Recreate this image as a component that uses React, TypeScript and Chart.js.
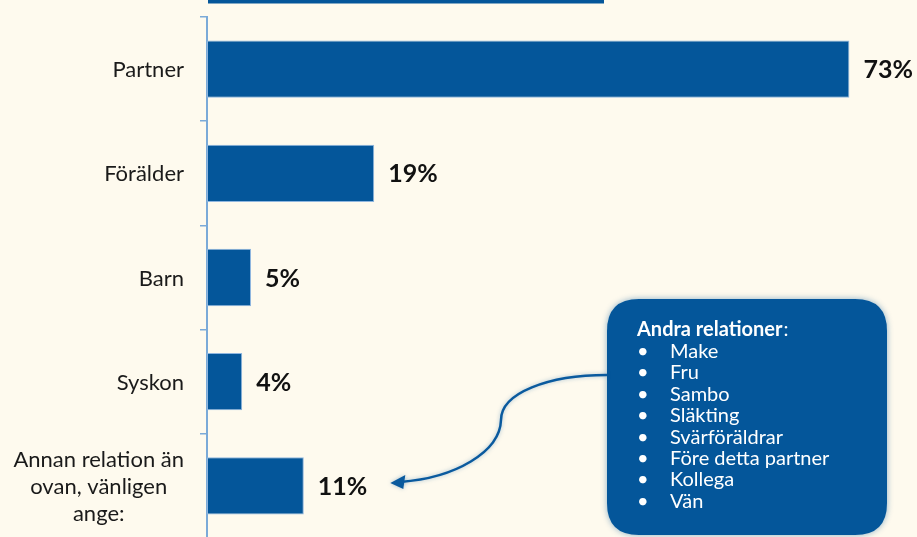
import React, { useEffect, useRef } from "react";
import { Chart, registerables } from "chart.js";

Chart.register(...registerables);

const categories: string[][] = [
  ["Partner"],
  ["Förälder"],
  ["Barn"],
  ["Syskon"],
  ["Annan relation än", "ovan, vänligen", "ange:"],
];
const values: number[] = [73, 19, 5, 4, 11];
const valueLabels: string[] = ["73%", "19%", "5%", "4%", "11%"];
const calloutTitle = "Andra relationer";
const calloutItems: string[] = [
  "Make",
  "Fru",
  "Sambo",
  "Släkting",
  "Svärföräldrar",
  "Före detta partner",
  "Kollega",
  "Vän",
];

const BG = "#FEFAEE";
const BAR = "#04569A";
const AXIS = "#7BAAD8";
const FONT = "Lato, 'Open Sans', sans-serif";

function roundRect(ctx: CanvasRenderingContext2D, x: number, y: number, w: number, h: number, r: number) {
  ctx.beginPath();
  ctx.moveTo(x + r, y);
  ctx.lineTo(x + w - r, y);
  ctx.quadraticCurveTo(x + w, y, x + w, y + r);
  ctx.lineTo(x + w, y + h - r);
  ctx.quadraticCurveTo(x + w, y + h, x + w - r, y + h);
  ctx.lineTo(x + r, y + h);
  ctx.quadraticCurveTo(x, y + h, x, y + h - r);
  ctx.lineTo(x, y + r);
  ctx.quadraticCurveTo(x, y, x + r, y);
  ctx.closePath();
}

const decorPlugin = {
  id: "decor",
  beforeDraw(chart: any) {
    const ctx = chart.ctx as CanvasRenderingContext2D;
    ctx.save();
    ctx.fillStyle = BG;
    ctx.fillRect(0, 0, chart.width, chart.height);
    // cropped banner at the top
    const x0 = chart.scales.x.left + 1;
    ctx.fillStyle = BAR;
    ctx.fillRect(x0, 0, 396, 3.5);
    ctx.restore();
  },
  afterDraw(chart: any) {
    const ctx = chart.ctx as CanvasRenderingContext2D;
    const xs = chart.scales.x;
    const ys = chart.scales.y;
    ctx.save();
    // category labels
    ctx.fillStyle = "#1a1a1a";
    ctx.font = `22px ${FONT}`;
    ctx.textBaseline = "middle";
    const rightEdge = ys.right - 7 - 16;
    const lh = 27;
    categories.forEach((lines, i) => {
      const cy = ys.getPixelForValue(i);
      const widths = lines.map((l) => ctx.measureText(l).width);
      const maxW = Math.max(...widths);
      const cx = rightEdge - maxW / 2;
      ctx.textAlign = "center";
      lines.forEach((l, j) => {
        const y = cy + (j - (lines.length - 1) / 2) * lh;
        ctx.fillText(l, cx, y + 1);
      });
    });
    // value labels
    ctx.font = `bold 25px ${FONT}`;
    ctx.textAlign = "left";
    ctx.fillStyle = "#111";
    let lastLabelEnd = 0;
    let lastY = 0;
    values.forEach((v, i) => {
      const x = xs.getPixelForValue(v) + 14;
      const y = ys.getPixelForValue(i);
      ctx.fillText(valueLabels[i], x, y + 1);
      lastLabelEnd = x + ctx.measureText(valueLabels[i]).width;
      lastY = y;
    });

    // callout box
    const bx = 607, by = 299, bw = 280, bh = 236;
    ctx.save();
    ctx.shadowColor = "rgba(4,86,154,0.45)";
    ctx.shadowBlur = 6;
    roundRect(ctx, bx, by, bw, bh, 32);
    ctx.fillStyle = BAR;
    ctx.fill();
    ctx.restore();

    ctx.fillStyle = "#ffffff";
    ctx.textBaseline = "alphabetic";
    ctx.textAlign = "left";
    ctx.font = `bold 20px ${FONT}`;
    ctx.fillText(calloutTitle, 637, 336);
    const tw = ctx.measureText(calloutTitle).width;
    ctx.font = `20px ${FONT}`;
    ctx.fillText(":", 637 + tw + 1, 336);
    calloutItems.forEach((it, i) => {
      const y = 358 + i * 21.4;
      ctx.font = `20px ${FONT}`;
      ctx.fillText("•", 637, y);
      ctx.fillText(it, 670, y);
    });

    // curved arrow
    const tipX = lastLabelEnd + 23;
    const tipY = lastY - 3;
    ctx.save();
    ctx.strokeStyle = "#0A5A9E";
    ctx.lineWidth = 2.5;
    ctx.shadowColor = "rgba(10,90,158,0.35)";
    ctx.shadowBlur = 4;
    ctx.beginPath();
    ctx.moveTo(bx, 375);
    ctx.bezierCurveTo(548, 375, 501, 393, 501, 420);
    ctx.bezierCurveTo(500, 452, 455, 478, tipX + 10, tipY - 1);
    ctx.stroke();
    ctx.fillStyle = "#0A5A9E";
    ctx.beginPath();
    ctx.moveTo(tipX, tipY);
    ctx.lineTo(tipX + 15, tipY - 8);
    ctx.lineTo(tipX + 13, tipY + 6);
    ctx.closePath();
    ctx.fill();
    ctx.restore();

    ctx.restore();
  },
};

export default function App() {
  const ref = useRef<HTMLCanvasElement | null>(null);
  useEffect(() => {
    document.body.style.margin = "0";
    document.body.style.background = BG;
    document.body.style.overflow = "hidden";
    if (!ref.current) return;
    const chart = new Chart(ref.current, {
      type: "bar",
      data: {
        labels: categories.map((c) => c.join(" ")),
        datasets: [
          {
            data: values,
            backgroundColor: BAR,
            borderColor: "#8FB6DF",
            borderWidth: 1,
            borderSkipped: false,
            barPercentage: 0.55,
            categoryPercentage: 1,
          },
        ],
      },
      options: {
        indexAxis: "y",
        animation: false,
        responsive: true,
        maintainAspectRatio: false,
        layout: { padding: { top: 17, bottom: 0, left: 0, right: 6 } },
        plugins: { legend: { display: false }, tooltip: { enabled: false }, title: { display: false } },
        scales: {
          x: { display: false, min: 0, max: 80 },
          y: {
            afterFit: (s: any) => {
              s.width = 207;
              s.paddingTop = 0;
              s.paddingBottom = 0;
            },
            ticks: { display: false },
            grid: {
              display: true,
              drawOnChartArea: false,
              drawTicks: true,
              tickLength: 7,
              color: AXIS,
              lineWidth: 1.5,
              offset: true,
            },
            border: { display: true, color: AXIS, width: 2 },
          },
        },
      },
      plugins: [decorPlugin],
    });
    return () => chart.destroy();
  }, []);
  return (
    <div style={{ position: "relative", width: 917, height: 538 }}>
      <canvas ref={ref} />
    </div>
  );
}
